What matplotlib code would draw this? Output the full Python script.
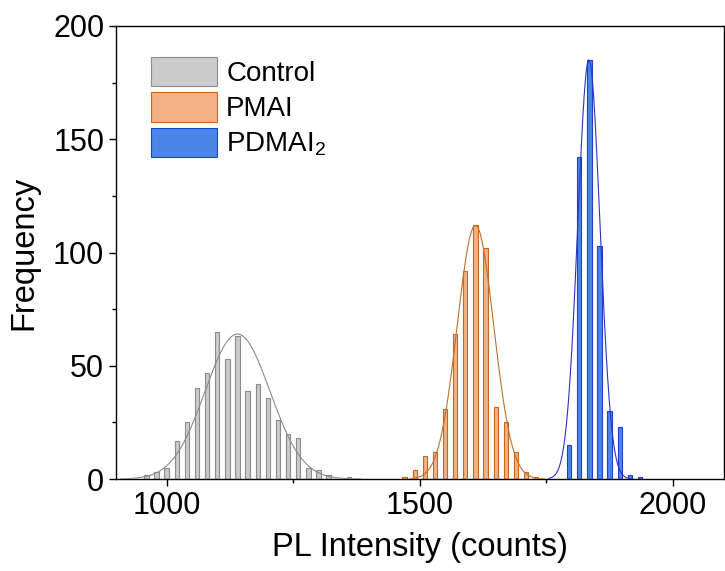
"""PL intensity histograms with Gaussian fits."""

import matplotlib
matplotlib.use("Agg")
import matplotlib.pyplot as plt
import numpy as np
from matplotlib.patches import Patch
from matplotlib.ticker import MultipleLocator

plt.rcParams["font.family"] = ["Liberation Sans", "DejaVu Sans"]
plt.rcParams["mathtext.default"] = "regular"

# Histogram bins (bin centres, counts)
control_x = [960, 980, 1000, 1020, 1040, 1060, 1080, 1100, 1120, 1140, 1160,
             1180, 1200, 1220, 1240, 1260, 1280, 1300, 1320, 1360]
control_n = [2, 3, 5, 17, 25, 40, 47, 65, 53, 63, 39, 42, 36, 26, 20, 18, 5, 4, 2, 1]

pmai_x = [1470, 1490, 1510, 1530, 1550, 1570, 1590, 1610, 1630, 1650, 1670,
          1690, 1710, 1730]
pmai_n = [1, 4, 10, 12, 31, 64, 92, 112, 102, 32, 25, 12, 3, 1]

pdmai_x = [1795, 1815, 1835, 1855, 1875, 1895, 1915, 1935]
pdmai_n = [15, 142, 185, 103, 30, 23, 2, 1]

# Gaussian fit parameters (amplitude, centre, sigma)
control_fit = (64, 1140, 64)
pmai_fit = (112, 1610, 36)
pdmai_fit = (185, 1834, 22)

labels = ["Control", "PMAI", r"PDMAI$_{2}$"]

series = [
    (control_x, control_n, control_fit, "#cbcbcb", "#8c8c8c", "#8a8a8a"),
    (pmai_x, pmai_n, pmai_fit, "#f4b183", "#c8661f", "#c0702e"),
    (pdmai_x, pdmai_n, pdmai_fit, "#4a86e8", "#1f3fcc", "#2b35c4"),
]

fig = plt.figure(figsize=(7.25, 5.71), dpi=100)
ax = fig.add_axes([0.16, 0.161, 0.838, 0.7935])

for xs, ns, (amp, mu, sig), face, edge, line in series:
    ax.bar(xs, ns, width=8.5, color=face, edgecolor=edge, linewidth=0.8, zorder=2)
    xx = np.linspace(mu - 3.6 * sig, mu + 3.8 * sig, 400)
    ax.plot(xx, amp * np.exp(-(xx - mu) ** 2 / (2 * sig ** 2)), color=line,
            lw=0.8, zorder=3)

ax.set_xlim(900, 2100)
ax.set_ylim(0, 200)
ax.xaxis.set_major_locator(MultipleLocator(500))
ax.xaxis.set_minor_locator(MultipleLocator(250))
ax.yaxis.set_major_locator(MultipleLocator(50))
ax.yaxis.set_minor_locator(MultipleLocator(25))
ax.tick_params(which="both", direction="out", top=False, right=False,
               labelsize=22, width=1)
ax.tick_params(which="major", length=5)
ax.tick_params(which="minor", length=3)
for s in ax.spines.values():
    s.set_linewidth(1)

ax.set_xlabel("PL Intensity (counts)", fontsize=23.5, labelpad=8)
ax.set_ylabel("Frequency", fontsize=23.5, labelpad=10)

handles = [Patch(facecolor=f, edgecolor=e, linewidth=0.8) for _, _, _, f, e, _ in series]
ax.legend(handles, labels, loc="upper left", bbox_to_anchor=(0.058, 0.932),
          frameon=False, fontsize=20, handlelength=2.35, handleheight=1.25,
          labelspacing=0.2, handletextpad=0.35, borderpad=0, borderaxespad=0)

fig.savefig("out.png", dpi=100)
